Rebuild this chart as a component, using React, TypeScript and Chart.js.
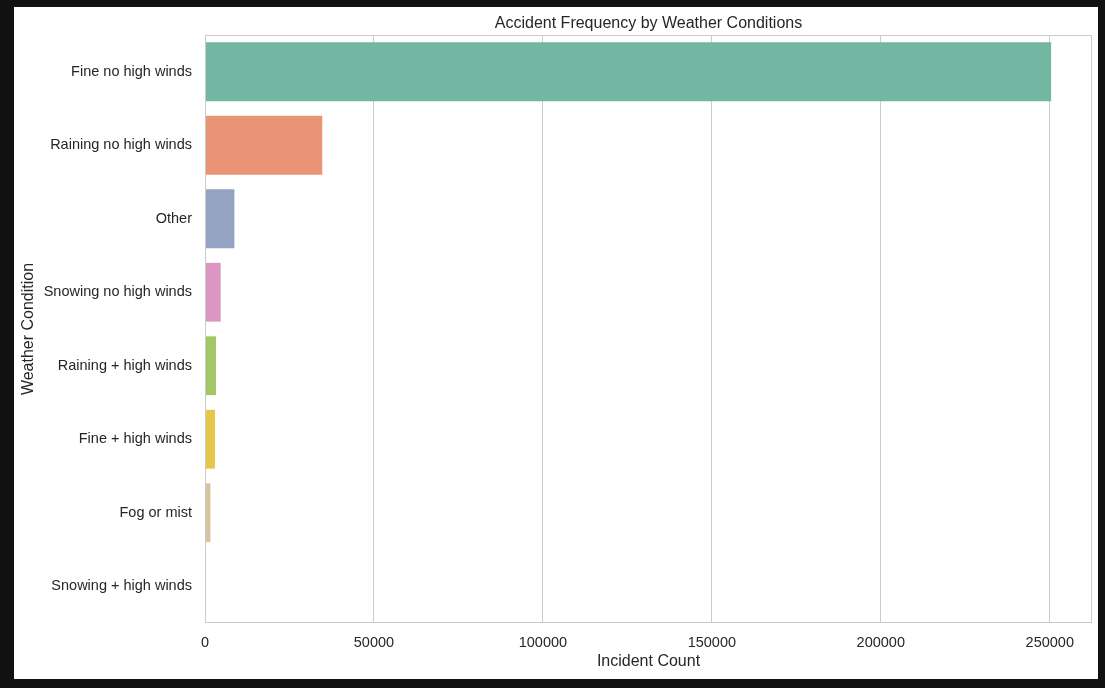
import React, { useEffect, useRef } from "react";
import { Chart, registerables } from "chart.js";

Chart.register(...registerables);

const chartTitle = "Accident Frequency by Weather Conditions";
const xAxisTitle = "Incident Count";
const yAxisTitle = "Weather Condition";

const categories = [
  "Fine no high winds",
  "Raining no high winds",
  "Other",
  "Snowing no high winds",
  "Raining + high winds",
  "Fine + high winds",
  "Fog or mist",
  "Snowing + high winds",
];

const incidentCounts = [250400, 34700, 8700, 4650, 3250, 2950, 1600, 300];

const barColors = [
  "#71b7a1",
  "#e99575",
  "#95a3c3",
  "#db96c1",
  "#a2c764",
  "#e5c849",
  "#dbc29e",
  "#b3b3b3",
];

const xTicks = [0, 50000, 100000, 150000, 200000, 250000];
const xMax = 262500;

const FONT = "'Liberation Sans', Arial, Helvetica, sans-serif";
const TEXT = "#262626";
const GRID = "#cccccc";

const titleAndFrame = {
  id: "titleAndFrame",
  afterDatasetsDraw(chart: any) {
    const { ctx, chartArea } = chart;
    const { left, right, top, bottom } = chartArea;
    ctx.save();
    ctx.strokeStyle = GRID;
    ctx.lineWidth = 1;
    const l = Math.round(left) + 0.5;
    const r = Math.round(right) - 0.5;
    const t = Math.round(top) + 0.5;
    const b = Math.round(bottom) - 0.5;
    ctx.strokeRect(l, t, r - l, b - t);
    ctx.restore();
  },
  afterDraw(chart: any) {
    const { ctx, chartArea } = chart;
    ctx.save();
    ctx.fillStyle = TEXT;
    ctx.font = `16px ${FONT}`;
    ctx.textAlign = "center";
    ctx.textBaseline = "alphabetic";
    ctx.fillText(chartTitle, (chartArea.left + chartArea.right) / 2, 21.3);
    ctx.restore();
  },
};

export default function App() {
  const ref = useRef<HTMLCanvasElement>(null);

  useEffect(() => {
    document.body.style.margin = "0";
    const canvas = ref.current;
    if (!canvas) return;
    const chart = new Chart(canvas, {
      type: "bar",
      data: {
        labels: categories,
        datasets: [
          {
            data: incidentCounts,
            backgroundColor: barColors,
            borderWidth: 0,
            categoryPercentage: 0.8,
            barPercentage: 1,
          },
        ],
      },
      options: {
        indexAxis: "y",
        animation: false,
        responsive: false,
        layout: { padding: { left: 0, top: 28, right: 6, bottom: 0 } },
        plugins: {
          legend: { display: false },
          title: { display: false },
          tooltip: { enabled: false },
        },
        scales: {
          x: {
            type: "linear",
            position: "bottom",
            min: 0,
            max: xMax,
            afterBuildTicks: (s: any) => {
              s.ticks = xTicks.map((v) => ({ value: v }));
            },
            afterFit: (s: any) => {
              s.height = 56;
            },
            ticks: {
              font: { family: FONT, size: 14.5 },
              color: TEXT,
              padding: 11.3,
              callback: (v: any) => String(v),
            },
            grid: { color: GRID, lineWidth: 1, drawTicks: false },
            border: { display: false },
            title: {
              display: true,
              text: xAxisTitle,
              color: TEXT,
              font: { family: FONT, size: 16 },
              padding: { top: 0, bottom: 8.2 },
            },
          },
          y: {
            type: "category",
            afterFit: (s: any) => {
              s.width = 191;
            },
            ticks: {
              font: { family: FONT, size: 14.5 },
              color: TEXT,
              padding: 13,
            },
            grid: { display: false, drawTicks: false },
            border: { display: false },
            title: {
              display: true,
              text: yAxisTitle,
              color: TEXT,
              font: { family: FONT, size: 16 },
              padding: { top: 5.2, bottom: 0 },
            },
          },
        },
      },
      plugins: [titleAndFrame],
    } as any);
    return () => chart.destroy();
  }, []);

  return (
    <div style={{ position: "fixed", inset: 0, background: "#111111" }}>
      <div
        style={{
          position: "absolute",
          left: 14,
          top: 7,
          width: 1084,
          height: 672,
          background: "#ffffff",
        }}
      >
        <canvas ref={ref} width={1084} height={672} style={{ display: "block" }} />
      </div>
    </div>
  );
}
